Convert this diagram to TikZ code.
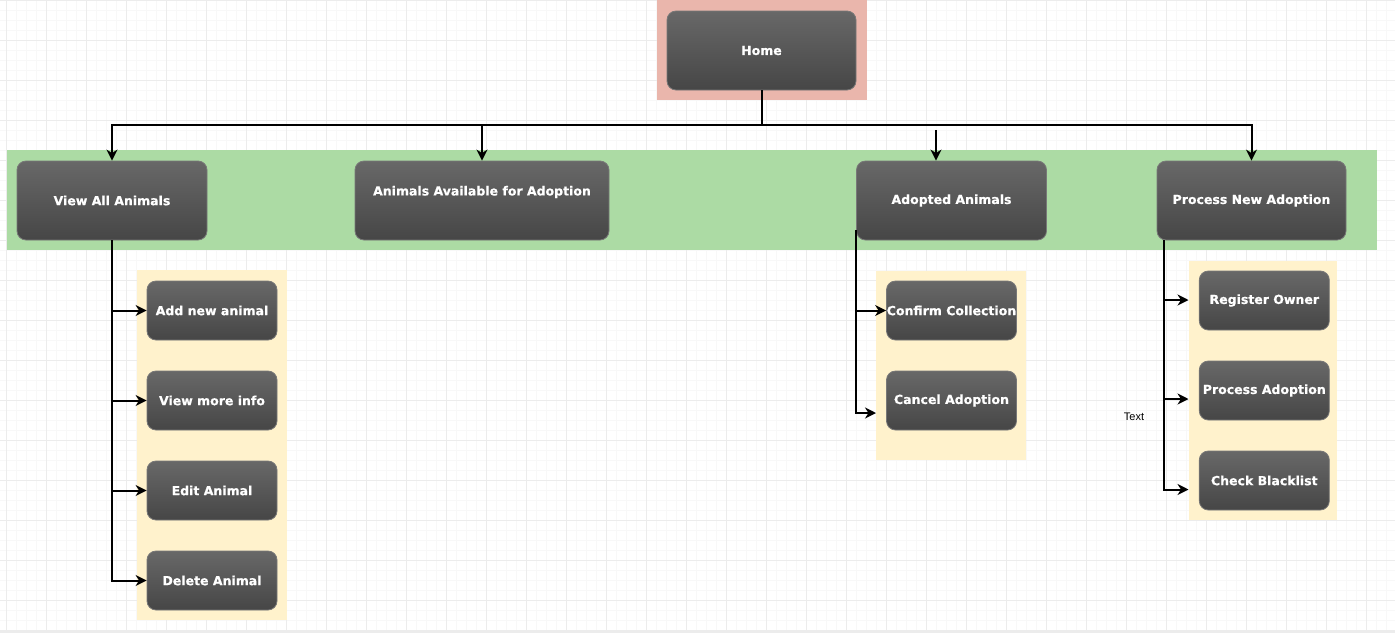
\documentclass[tikz,border=0pt]{standalone}
\usepackage{fontspec}
\newfontfamily\boxfont[BoldFeatures={FakeBold=0.6}]{DejaVu Sans}
\newfontfamily\lblfont{Liberation Sans}
\usetikzlibrary{arrows.meta}
\definecolor{pinkbg}{RGB}{234,182,172}
\definecolor{greenbg}{RGB}{172,219,164}
\definecolor{yellowbg}{RGB}{255,242,204}
\definecolor{boxtop}{RGB}{104,104,104}
\definecolor{boxbot}{RGB}{70,70,70}
\definecolor{boxedge}{RGB}{120,120,120}
\definecolor{gridminor}{RGB}{248,248,248}
\definecolor{gridmajor}{RGB}{236,236,236}
\begin{document}
\begin{tikzpicture}[x=1pt,y=-1pt,
  box/.style={rounded corners=9pt, draw=boxedge, line width=0.8pt, top color=boxtop, bottom color=boxbot, text=white, font=\boxfont\bfseries\fontsize{12.5}{15}\selectfont, inner sep=0pt, align=center},
  bigbox/.style={box, minimum width=189pt, minimum height=79pt},
  smallbox/.style={box, minimum width=130pt, minimum height=59pt},
  boxtext/.style={text=white, font=\boxfont\bfseries\fontsize{12.5}{15}\selectfont, inner sep=0pt},
  conn/.style={line width=2pt, black},
  arr/.style={conn, -{Stealth[length=11pt,width=11pt,inset=3.5pt]}},
  band/.style={draw=none}
]
\useasboundingbox (0,0) rectangle (1395,633);
\fill[white] (0,0) rectangle (1395,633);
% grid
\foreach \i in {0,...,140} \draw[gridminor, line width=0.8pt] ({-3.33+10*\i},0) -- ++(0,633);
\foreach \i in {0,...,63} \draw[gridminor, line width=0.8pt] (0,{10*\i}) -- ++(1395,0);
\foreach \i in {0,...,34} \draw[gridmajor, line width=1pt] ({6.67+40*\i},0) -- ++(0,633);
\foreach \i in {0,...,15} \draw[gridmajor, line width=1pt] (0,{40*\i}) -- ++(1395,0);
\fill[gridmajor] (0,630) rectangle (1395,633);
% bands
\fill[pinkbg] (657,0) rectangle (866.5,100);
\fill[greenbg] (7,150) rectangle (1376.5,250);
\fill[yellowbg] (137,270) rectangle (287,620);
\fill[yellowbg] (876,270.5) rectangle (1026,460);
\fill[yellowbg] (1189.3,260.7) rectangle (1336.7,520);
% main nodes
\node[bigbox] (home) at (761.5,50.5) {Home};
\node[bigbox, minimum width=190pt] (viewall) at (112,200.5) {View All Animals};
\node[bigbox, minimum width=254pt] (avail) at (482,200.5) {};
\node[boxtext] (availtxt) at (482,192) {Animals Available for Adoption};
\node[bigbox, minimum width=190pt] (adopted) at (951.5,200.5) {Adopted Animals};
\node[bigbox] (process) at (1251.5,200.5) {Process New Adoption};
% children
\node[smallbox] (addnew) at (212,310.5) {Add new animal};
\node[smallbox] (moreinfo) at (212,400.5) {View more info};
\node[smallbox] (edit) at (212,490.5) {Edit Animal};
\node[smallbox] (delete) at (212,580.5) {Delete Animal};
\node[smallbox] (confirm) at (951.5,310.5) {Confirm Collection};
\node[smallbox] (cancel) at (951.5,400.5) {Cancel Adoption};
\node[smallbox] (register) at (1264.3,300.5) {Register Owner};
\node[smallbox] (procad) at (1264.3,390.5) {Process Adoption};
\node[smallbox] (check) at (1264.3,480.5) {Check Blacklist};
\node[font=\lblfont\fontsize{11}{13}\selectfont, inner sep=0pt] (txt) at (1134,417) {Text};
% connectors
\coordinate (hub) at (761.5,125);
\draw[conn] (home.south) -- (hub);
\draw[arr] (hub) -| (viewall.north);
\draw[arr] (hub) -| (avail.north);
\draw[arr] (hub) -| (process.north);
\coordinate (adtop) at (936,130);
\draw[arr] (adtop) -- (adtop |- adopted.north);
\draw[arr] (viewall.south) |- (addnew.west);
\draw[arr] (viewall.south) |- (moreinfo.west);
\draw[arr] (viewall.south) |- (edit.west);
\draw[arr] (viewall.south) |- (delete.west);
\coordinate (adtap) at (856,230);
\coordinate (cancelin) at (876,413);
\draw[arr] (adtap) |- (confirm.west);
\draw[arr] (adtap) |- (cancelin);
\coordinate (ptap) at (1163.5,240);
\coordinate (pin1) at (1188.5,300);
\coordinate (pin2) at (1188.5,399);
\coordinate (pin3) at (1188.5,489.5);
\draw[arr] (ptap) |- (pin1);
\draw[arr] (ptap) |- (pin2);
\draw[arr] (ptap) |- (pin3);
\end{tikzpicture}
\end{document}
